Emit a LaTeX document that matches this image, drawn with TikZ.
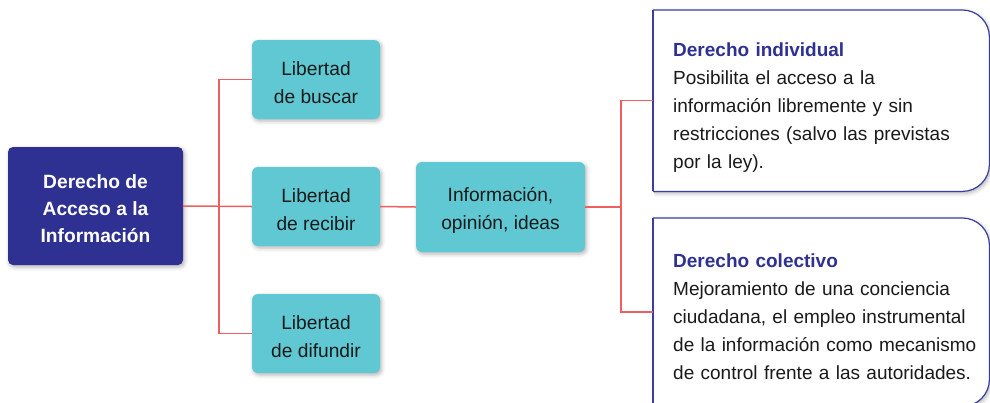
\documentclass[tikz,border=0pt]{standalone}
\usepackage{fontspec}
\setmainfont{Liberation Sans}
\usetikzlibrary{shadows.blur,backgrounds}
\definecolor{navy}{HTML}{2E3192}
\definecolor{cyanbox}{HTML}{5FC8D2}
\definecolor{redline}{HTML}{EF5F62}
\definecolor{bordblue}{HTML}{3A3E9E}
\definecolor{txt}{HTML}{1A1A1A}
\newcommand\mytopstrut{\rule{0pt}{20pt}}
\begin{document}
\begin{tikzpicture}[x=1pt,y=1pt,
  shad/.style={blur shadow={shadow xshift=1.5pt, shadow yshift=-2pt, shadow blur radius=4pt, shadow opacity=30}},
  mainbox/.style={fill=navy, rounded corners=5pt, minimum width=175pt, minimum height=118pt, align=center, text=white, font=\fontsize{19.2}{27}\selectfont\bfseries, shad, inner sep=0pt},
  libbox/.style={fill=cyanbox, rounded corners=6pt, minimum width=128pt, minimum height=79pt, align=center, text=txt, font=\fontsize{19.2}{28}\selectfont, shad, inner sep=0pt},
  infobox/.style={libbox, minimum width=169pt, minimum height=90pt},
  conn/.style={draw=redline, line width=1.5pt},
  rightbox/.style={anchor=north west, minimum width=336pt, text width=336pt, align=left, inner xsep=0pt, inner ysep=0pt, text=txt, font=\fontsize{19}{28}\selectfont},
  rborder/.style={draw=bordblue, line width=1.2pt, rounded corners=27pt},
  rfill/.style={fill=white, shad, rounded corners=27pt}
]
\useasboundingbox (0,0) rectangle (990,-402);

\node[mainbox] (acc) at (95.5,-206) {\mytopstrut Derecho de\\Acceso a la\\Información};
\node[libbox] (bus) at (316,-79.5) {\mytopstrut Libertad\\de buscar};
\node[libbox] (rec) at (316,-206.5) {\mytopstrut Libertad\\de recibir};
\node[libbox] (dif) at (316,-333.5) {\mytopstrut Libertad\\de difundir};
\node[infobox] (inf) at (500.5,-207) {\mytopstrut Información,\\opinión, ideas};

\node[rightbox, minimum height=181pt] (d1) at (653,-10)
  {\leftskip=20pt\relax\leavevmode\rule{0pt}{27pt}\textcolor{navy}{\bfseries Derecho individual}\\Posibilita el acceso a la\\información libremente y sin\\restricciones (salvo las previstas\\por la ley).\par};
\node[rightbox, minimum height=188pt] (d2) at (653,-218)
  {\leftskip=20pt\relax\leavevmode\rule{0pt}{23pt}\textcolor{navy}{\bfseries Derecho colectivo}\\Mejoramiento de una conciencia\\ciudadana, el empleo instrumental\\de la información como mecanismo\\de control frente a las autoridades.\par};

\begin{pgfonlayer}{background}
  \fill[rfill] (d1.north west) -- (d1.north east) -- (d1.south east) -- (d1.south west);
  \fill[rfill] (d2.north west) -- (d2.north east) -- (d2.south east) -- (d2.south west);
\end{pgfonlayer}
\draw[rborder] (d1.north west) -- (d1.north east) -- (d1.south east) -- (d1.south west);
\draw[rborder] (d1.north west) -- (d1.south west);
\draw[rborder] (d2.north west) -- (d2.north east) -- (d2.south east) -- (d2.south west);
\draw[rborder] (d2.north west) -- (d2.south west);

\path (acc.east) -- ++(36,0) coordinate (j1);
\path (inf.east) -- ++(36,0) coordinate (j2);
\draw[conn] (acc.east) -- (rec.west);
\draw[conn] (bus.west) -| (j1) |- (dif.west);
\draw[conn] (rec.east) -- (inf.west);
\draw[conn] (inf.east) -- (j2);
\draw[conn] (d1.west) -| (j2) |- (d2.west);
\end{tikzpicture}
\end{document}
